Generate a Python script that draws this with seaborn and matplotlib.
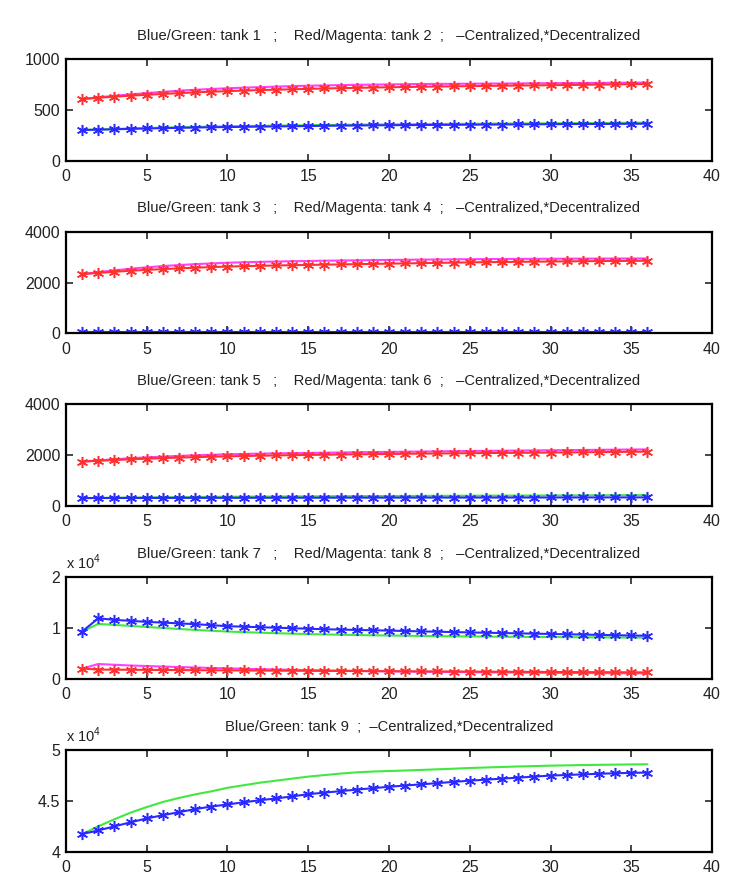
import numpy as np
import matplotlib
matplotlib.use("Agg")
import matplotlib.pyplot as plt
from matplotlib.ticker import FuncFormatter
import seaborn as sns

# time steps
steps = list(range(1, 37))

# tank 1 (blue = decentralized, green = centralized)
tank1_dec = [303, 306, 310, 314, 318, 321, 324, 327, 330, 332, 334, 336, 338, 340, 342, 344, 346, 347,
             349, 350, 351, 352, 353, 354, 355, 356, 357, 358, 359, 360, 361, 362, 362, 363, 364, 365]
tank1_cen = [303, 308, 313, 318, 322, 326, 330, 333, 336, 339, 342, 344, 346, 348, 350, 352, 354, 355,
             357, 358, 359, 361, 362, 363, 364, 365, 366, 367, 368, 369, 370, 371, 372, 373, 374, 375]
# tank 2 (red = decentralized, magenta = centralized)
tank2_dec = [608, 620, 631, 641, 650, 658, 666, 673, 680, 686, 691, 696, 700, 704, 708, 712, 715, 718,
             721, 724, 726, 729, 731, 733, 735, 737, 739, 741, 742, 744, 746, 748, 750, 752, 754, 756]
tank2_cen = [608, 625, 640, 654, 667, 679, 690, 699, 707, 714, 720, 725, 730, 735, 739, 742, 745, 748,
             750, 752, 754, 756, 757, 758, 759, 760, 761, 762, 763, 764, 765, 766, 767, 768, 769, 770]

tank3_dec = [40, 40, 40, 40, 40, 40, 40, 40, 40, 40, 40, 40, 40, 40, 40, 40, 40, 40,
             40, 40, 40, 40, 40, 40, 40, 40, 40, 40, 40, 40, 40, 40, 40, 40, 40, 40]
tank3_cen = [15, 15, 15, 15, 15, 15, 15, 15, 15, 15, 15, 15, 15, 15, 15, 15, 15, 15,
             15, 15, 15, 15, 15, 15, 15, 15, 15, 15, 15, 15, 15, 15, 15, 15, 15, 15]
tank4_dec = [2333, 2380, 2425, 2465, 2500, 2530, 2560, 2585, 2610, 2630, 2645, 2660, 2672, 2684, 2695,
             2705, 2715, 2725, 2735, 2745, 2755, 2765, 2775, 2785, 2795, 2803, 2810, 2817, 2823, 2829,
             2835, 2840, 2845, 2850, 2855, 2860]
tank4_cen = [2333, 2410, 2480, 2545, 2600, 2650, 2690, 2725, 2755, 2780, 2800, 2815, 2828, 2840, 2850,
             2860, 2868, 2876, 2884, 2891, 2898, 2904, 2910, 2915, 2920, 2924, 2928, 2932, 2935, 2938,
             2941, 2943, 2945, 2947, 2949, 2950]

tank5_dec = [300, 302, 303, 304, 305, 306, 307, 308, 309, 310, 311, 312, 313, 314, 314, 315, 316, 317,
             317, 318, 319, 319, 320, 321, 321, 322, 322, 323, 323, 324, 324, 325, 325, 326, 326, 327]
tank5_cen = [300, 308, 315, 322, 328, 334, 339, 344, 348, 352, 356, 360, 363, 366, 369, 372, 375, 378,
             380, 383, 385, 388, 390, 392, 394, 396, 398, 400, 402, 404, 406, 408, 410, 413, 416, 418]
tank6_dec = [1738, 1770, 1800, 1828, 1853, 1875, 1895, 1913, 1930, 1945, 1958, 1970, 1981, 1991, 2000,
             2009, 2017, 2025, 2032, 2039, 2046, 2052, 2058, 2064, 2069, 2074, 2079, 2084, 2089, 2094,
             2099, 2105, 2111, 2117, 2124, 2130]
tank6_cen = [1738, 1785, 1830, 1870, 1905, 1935, 1962, 1986, 2007, 2025, 2040, 2052, 2062, 2071, 2080,
             2089, 2097, 2105, 2113, 2121, 2128, 2135, 2142, 2149, 2155, 2161, 2167, 2173, 2179, 2185,
             2190, 2196, 2202, 2208, 2214, 2220]

tank7_dec = [9300, 11900, 11600, 11400, 11200, 11050, 10900, 10750, 10550, 10350, 10250, 10150, 10050,
             9950, 9850, 9750, 9680, 9610, 9550, 9480, 9400, 9330, 9260, 9190, 9120, 9060, 9000, 8940,
             8880, 8820, 8760, 8700, 8640, 8580, 8520, 8460]
tank7_cen = [9300, 10800, 10600, 10400, 10200, 10000, 9800, 9620, 9450, 9300, 9180, 9070, 8970, 8880,
             8800, 8730, 8670, 8610, 8560, 8510, 8470, 8430, 8390, 8360, 8330, 8300, 8270, 8250, 8230,
             8210, 8190, 8170, 8150, 8130, 8110, 8100]
tank8_dec = [2000, 1800, 1780, 1760, 1740, 1720, 1700, 1680, 1660, 1640, 1620, 1600, 1585, 1570, 1555,
             1540, 1525, 1510, 1495, 1480, 1465, 1450, 1435, 1420, 1405, 1390, 1375, 1360, 1345, 1330,
             1315, 1300, 1290, 1280, 1265, 1250]
tank8_cen = [2000, 2900, 2750, 2600, 2500, 2400, 2300, 2210, 2120, 2040, 1960, 1890, 1820, 1760, 1700,
             1640, 1590, 1540, 1490, 1450, 1410, 1370, 1340, 1310, 1280, 1250, 1225, 1200, 1180, 1160,
             1140, 1120, 1100, 1085, 1065, 1050]

tank9_dec = [41740, 42100, 42500, 42900, 43280, 43600, 43900, 44200, 44450, 44660, 44870, 45070, 45250,
             45450, 45670, 45820, 45970, 46120, 46260, 46400, 46520, 46640, 46760, 46880, 47000, 47100,
             47200, 47300, 47400, 47500, 47560, 47620, 47680, 47730, 47770, 47800]
tank9_cen = [41740, 42500, 43200, 43850, 44400, 44900, 45300, 45650, 45950, 46300, 46550, 46800, 47000,
             47200, 47400, 47550, 47700, 47820, 47900, 47950, 48000, 48060, 48120, 48180, 48250, 48300,
             48350, 48400, 48440, 48480, 48510, 48540, 48560, 48580, 48600, 48620]

sns.set_style("ticks")
font_list = ["Liberation Sans Narrow", "Liberation Sans", "DejaVu Sans"]
plt.rcParams["font.family"] = font_list
plt.rcParams["mathtext.fontset"] = "custom"
plt.rcParams["mathtext.rm"] = "Liberation Sans"
plt.rcParams["font.size"] = 11

c_blue = "#2a2aff"
c_green = "#40e840"
c_red = "#ff3030"
c_mag = "#ff40ff"
txt = "#222222"
star = (6, 2, 0)

fig = plt.figure(figsize=(7.56, 8.96), dpi=100)

left, width, height = 0.0873, 0.8545, 0.1133
bottoms = [0.8206, 0.6280, 0.4356, 0.2425, 0.0494]

panels = [
    ("Blue/Green: tank 1   ;    Red/Magenta: tank 2  ;   \u2013Centralized,*Decentralized",
     tank1_cen, tank1_dec, tank2_cen, tank2_dec, (0, 1000), [0, 500, 1000], False),
    ("Blue/Green: tank 3   ;    Red/Magenta: tank 4  ;   \u2013Centralized,*Decentralized",
     tank3_cen, tank3_dec, tank4_cen, tank4_dec, (0, 4000), [0, 2000, 4000], False),
    ("Blue/Green: tank 5   ;    Red/Magenta: tank 6  ;   \u2013Centralized,*Decentralized",
     tank5_cen, tank5_dec, tank6_cen, tank6_dec, (0, 4000), [0, 2000, 4000], False),
    ("Blue/Green: tank 7   ;    Red/Magenta: tank 8  ;   \u2013Centralized,*Decentralized",
     tank7_cen, tank7_dec, tank8_cen, tank8_dec, (0, 20000), [0, 10000, 20000], True),
    ("Blue/Green: tank 9  ;  \u2013Centralized,*Decentralized",
     tank9_cen, tank9_dec, None, None, (40000, 50000), [40000, 45000, 50000], True),
]

def draw_line(ax, vals, color, with_marker):
    if with_marker:
        sns.lineplot(x=steps, y=vals, ax=ax, color=color, linewidth=1.5, marker=star,
                     markersize=8, markeredgewidth=1.1, markeredgecolor=color)
    else:
        sns.lineplot(x=steps, y=vals, ax=ax, color=color, linewidth=1.5)

for (title, bg_c, bg_d, rm_c, rm_d, ylim, yticks, sci), b in zip(panels, bottoms):
    ax = fig.add_axes([left, b, width, height])
    if rm_c is not None:
        draw_line(ax, rm_c, c_mag, False)
        draw_line(ax, rm_d, c_red, True)
    draw_line(ax, bg_c, c_green, False)
    draw_line(ax, bg_d, c_blue, True)
    ax.set_xlim(0, 40)
    ax.set_ylim(*ylim)
    ax.set_xticks(range(0, 41, 5))
    ax.set_yticks(yticks)
    if sci:
        ax.yaxis.set_major_formatter(FuncFormatter(lambda v, p: f"{v / 1e4:g}"))
        ax.text(0.0, 1.05, r"x 10$^4$", transform=ax.transAxes, ha="left", va="bottom",
                fontsize=10.5, color=txt)
    ax.tick_params(direction="in", top=True, right=True, length=5, width=1.2,
                   labelsize=11.5, labelcolor=txt, pad=4)
    ax.tick_params(axis="x", pad=6)
    for sp in ax.spines.values():
        sp.set_linewidth(1.6)
        sp.set_color("black")
    ax.set_xlabel("")
    ax.set_ylabel("")
    ax.set_title(title, fontsize=10.6, color=txt, pad=14)

fig.savefig("out.png", dpi=100, facecolor="white")
